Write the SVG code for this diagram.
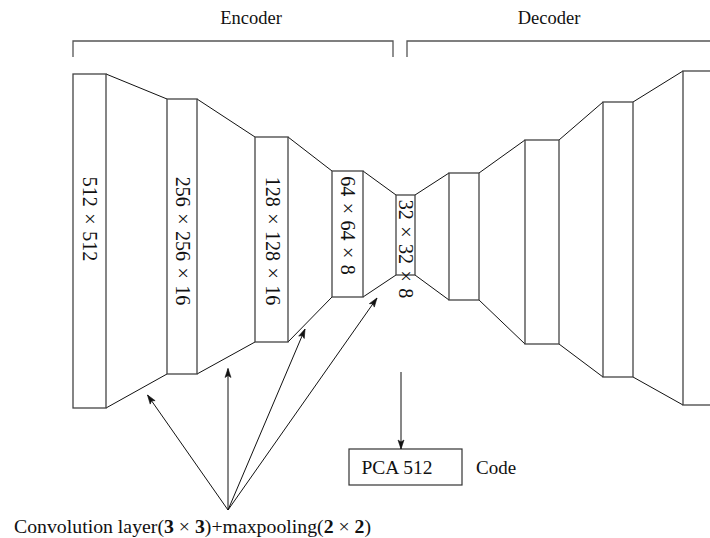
<svg xmlns="http://www.w3.org/2000/svg" width="710" height="538" viewBox="0 0 710 538" font-family="'Liberation Serif', 'DejaVu Serif', 'Times New Roman', serif">
  <style>
    text { font-family: "Liberation Serif", "DejaVu Serif", "Times New Roman", serif; fill: #111; }
    .layer { fill: #fff; stroke: #444; stroke-width: 1.3; }
    .edge { fill: none; stroke: #111; stroke-width: 1; }
    .bracket { fill: none; stroke: #555; stroke-width: 1.3; }
    .dim { font-size: 20px; word-spacing: 1.5px; text-anchor: middle; }
    .title { font-size: 18.5px; text-anchor: middle; }
    .bold { font-weight: bold; }
  </style>
  <defs>
    <marker id="head" markerUnits="userSpaceOnUse" markerWidth="12" markerHeight="10" viewBox="-10 -5 12 10" refX="0" refY="0" orient="auto">
      <path d="M0,0 L-9,-3 L-7,0 L-9,3 Z" fill="#111" stroke="#111" stroke-width="0.6" stroke-linejoin="miter"/>
    </marker>
  </defs>

  <rect width="710" height="538" fill="#fff"/>

  <!-- section brackets -->
  <g id="encoder-bracket">
    <polyline class="bracket" points="73,57 73,41 393,41 393,57"/>
    <text class="title" x="251" y="24">Encoder</text>
  </g>
  <g id="decoder-bracket">
    <polyline class="bracket" points="407,57 407,41 712,41"/>
    <text class="title" x="549" y="24">Decoder</text>
  </g>

  <!-- trapezoid connectors between layers -->
  <g id="connectors">
    <path class="edge" d="M106,74 L167,99 M106,408 L167,374"/>
    <path class="edge" d="M197,99 L255,137 M197,374 L255,342"/>
    <path class="edge" d="M288,137 L332,171 M288,342 L332,297"/>
    <path class="edge" d="M363,171 L396,195 M363,297 L396,275"/>
    <path class="edge" d="M415,195 L449,173 M415,275 L449,300"/>
    <path class="edge" d="M479,173 L525,140 M479,300 L525,344"/>
    <path class="edge" d="M559,140 L603,102 M559,344 L603,377"/>
    <path class="edge" d="M633,102 L683,71 M633,377 L683,405"/>
  </g>

  <!-- encoder layers -->
  <g id="enc1">
    <rect class="layer" x="73" y="74" width="33" height="334"/>
    <text class="dim" x="83" y="219" transform="rotate(90 83 219)">512 × 512</text>
  </g>
  <g id="enc2">
    <rect class="layer" x="167" y="99" width="30" height="275"/>
    <text class="dim" x="175.5" y="241" transform="rotate(90 175.5 241)">256 × 256 × 16</text>
  </g>
  <g id="enc3">
    <rect class="layer" x="255" y="137" width="33" height="205"/>
    <text class="dim" x="265.5" y="241" transform="rotate(90 265.5 241)">128 × 128 × 16</text>
  </g>
  <g id="enc4">
    <rect class="layer" x="332" y="171" width="31" height="126"/>
    <text class="dim" x="341" y="225.5" transform="rotate(90 341 225.5)">64 × 64 × 8</text>
  </g>
  <g id="bottleneck">
    <rect class="layer" x="396" y="195" width="19" height="80"/>
    <text class="dim" x="398.5" y="249" transform="rotate(90 398.5 249)">32 × 32 × 8</text>
  </g>

  <!-- decoder layers -->
  <g id="dec1"><rect class="layer" x="449" y="173" width="30" height="127"/></g>
  <g id="dec2"><rect class="layer" x="525" y="140" width="34" height="204"/></g>
  <g id="dec3"><rect class="layer" x="603" y="102" width="30" height="275"/></g>
  <g id="dec4"><rect class="layer" x="683" y="71" width="40" height="334"/></g>

  <!-- code box -->
  <g id="code">
    <rect x="349" y="449" width="113" height="36" fill="#fff" stroke="#333" stroke-width="1.2"/>
    <text x="361.5" y="473.5" font-size="19.5">PCA 512</text>
    <text x="476" y="473.5" font-size="19">Code</text>
  </g>

  <!-- annotation arrows -->
  <g id="arrows">
    <line class="edge" x1="401" y1="372" x2="401" y2="449" marker-end="url(#head)"/>
    <line class="edge" x1="228" y1="510" x2="147.5" y2="395" marker-end="url(#head)"/>
    <line class="edge" x1="228" y1="510" x2="228" y2="368.5" marker-end="url(#head)"/>
    <line class="edge" x1="228" y1="510" x2="305" y2="329" marker-end="url(#head)"/>
    <line class="edge" x1="228" y1="510" x2="377" y2="298" marker-end="url(#head)"/>
  </g>

  <g id="caption">
    <text x="14" y="533" font-size="19.8">Convolution layer(<tspan class="bold">3</tspan> × <tspan class="bold">3</tspan>)+maxpooling(<tspan class="bold">2</tspan> × <tspan class="bold">2</tspan>)</text>
  </g>
</svg>
